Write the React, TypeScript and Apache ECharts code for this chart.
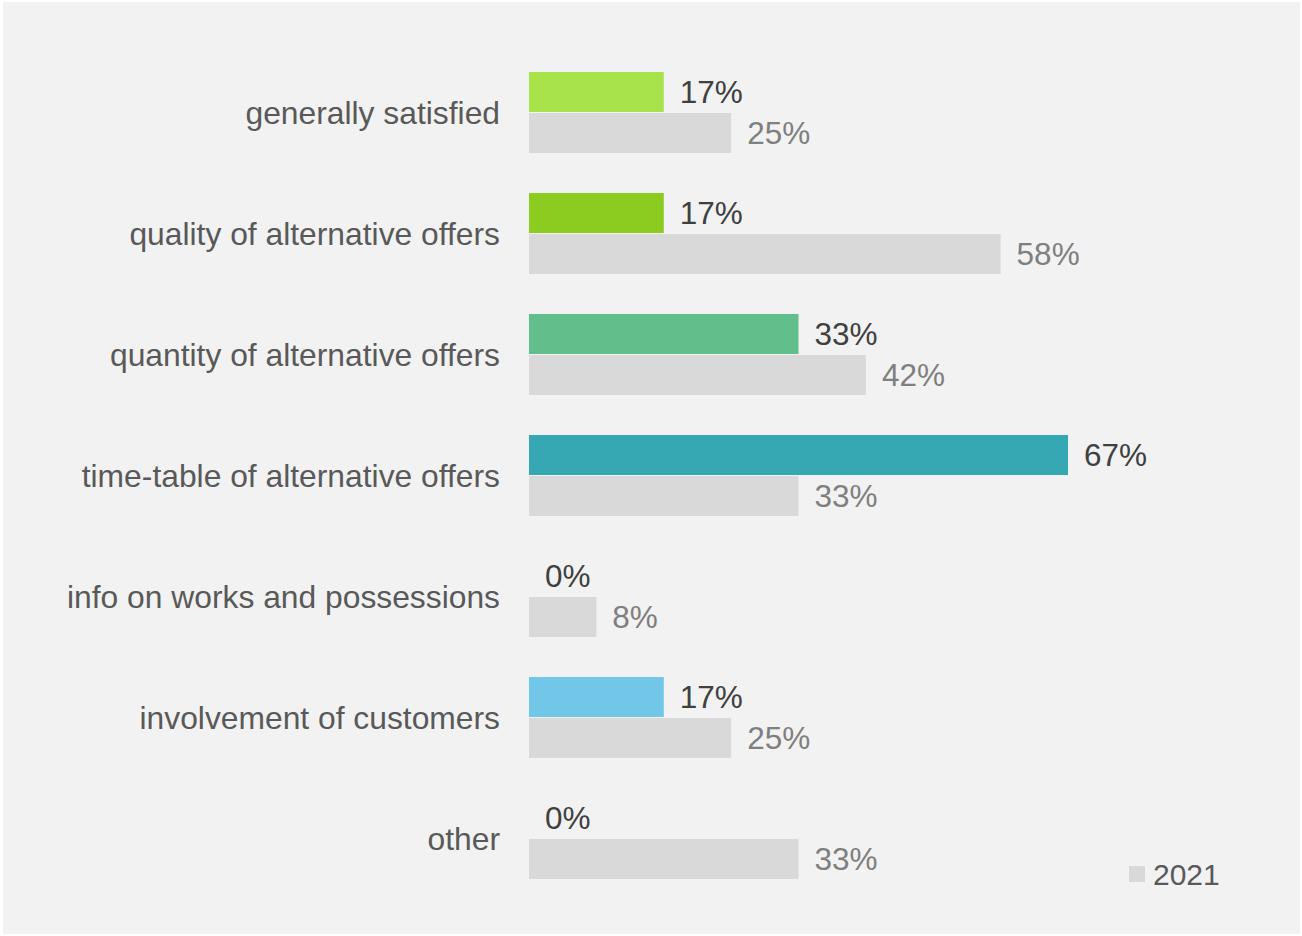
import React, { useEffect, useRef } from "react";
import * as echarts from "echarts";

const categories = [
  "generally satisfied",
  "quality of alternative offers",
  "quantity of alternative offers",
  "time-table of alternative offers",
  "info on works and possessions",
  "involvement of customers",
  "other",
];
const values2022 = [16.67, 16.67, 33.33, 66.67, 0, 16.67, 0];
const colors2022 = ["#a9e34b", "#8ccb20", "#62bf8c", "#36a8b4", "#72c6e8", "#72c6e8", "#72c6e8"];
const values2021 = [25, 58.33, 41.67, 33.33, 8.33, 25, 33.33];
const legendLabels = ["2021"];

export default function App() {
  const ref = useRef<HTMLDivElement>(null);
  useEffect(() => {
    if (!ref.current) return;
    const chart = echarts.init(ref.current, undefined, { renderer: "svg" });
    const fmt = (p: any) => Math.round(p.value) + "%";
    chart.setOption({
      animation: false,
      backgroundColor: "#ffffff",
      textStyle: { fontFamily: "Liberation Sans, Arial, sans-serif" },
      graphic: [
        {
          type: "rect",
          z: -10,
          silent: true,
          shape: { x: 3, y: 2, width: 1297, height: 932 },
          style: { fill: "#f2f2f2" },
        },
      ],
      legend: {
        data: legendLabels,
        left: 1124,
        top: 854,
        icon: "rect",
        itemWidth: 16,
        itemHeight: 16,
        textStyle: { fontSize: 30, color: "#595959", padding: [0, 0, 0, 3] },
      },
      grid: { left: 529, top: 52, bottom: 37, right: 126.2, containLabel: false },
      xAxis: {
        type: "value",
        min: 0,
        max: 80,
        show: false,
      },
      yAxis: {
        type: "category",
        data: categories,
        inverse: true,
        axisLine: { show: false },
        axisTick: { show: false },
        axisLabel: { fontSize: 31.8, color: "#595959", margin: 29 },
      },
      series: [
        {
          name: "2022",
          type: "bar",
          barWidth: 40,
          barGap: "2.5%",
          data: values2022.map((v, i) => ({ value: v, itemStyle: { color: colors2022[i] } })),
          label: {
            show: true,
            position: "right",
            distance: 16,
            fontSize: 31.5,
            color: "#404040",
            formatter: fmt,
          },
        },
        {
          name: "2021",
          type: "bar",
          barWidth: 40,
          barGap: "2.5%",
          itemStyle: { color: "#d9d9d9" },
          data: values2021,
          label: {
            show: true,
            position: "right",
            distance: 16,
            fontSize: 31.5,
            color: "#7f7f7f",
            formatter: fmt,
          },
        },
      ],
    });
    return () => chart.dispose();
  }, []);
  return (
    <div
      ref={ref}
      style={{ position: "fixed", left: 0, top: 0, width: 1302, height: 936 }}
    />
  );
}
